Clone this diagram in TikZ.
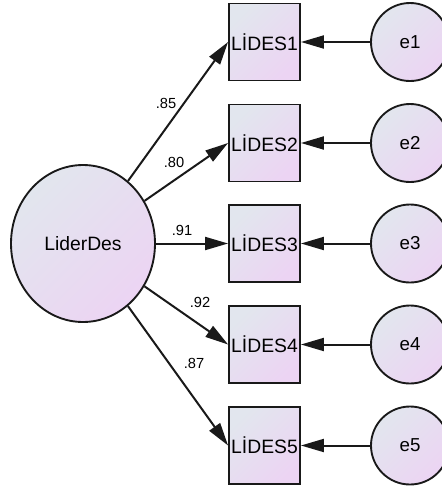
\documentclass[tikz,border=0pt]{standalone}
\usepackage{fontspec}
\setmainfont{Liberation Sans}
\usetikzlibrary{arrows.meta,shapes.geometric}

\definecolor{shadetop}{RGB}{226,230,238}
\definecolor{shadebot}{RGB}{236,212,243}
\definecolor{inkline}{RGB}{25,25,25}

\begin{document}
\begin{tikzpicture}[x=0.3mm,y=-0.3mm,
    latent/.style={ellipse,draw=inkline,line width=1.6pt,top color=shadetop,bottom color=shadebot,shading angle=45,inner sep=0pt,font=\fontsize{16.5}{18}\selectfont},
    obsbox/.style={rectangle,draw=inkline,line width=1.6pt,top color=shadetop,bottom color=shadebot,shading angle=45,inner sep=0pt,minimum width=21.3mm,minimum height=23.1mm,font=\fontsize{16.5}{18}\selectfont},
    errc/.style={circle,draw=inkline,line width=1.6pt,top color=shadetop,bottom color=shadebot,shading angle=45,inner sep=0pt,minimum size=23.4mm,font=\fontsize{16}{18}\selectfont},
    coef/.style={inner sep=0pt,font=\fontsize{12.5}{14}\selectfont},
    arr/.style={draw=inkline,line width=1.7pt,-{Triangle[length=6.9mm,width=3.9mm]}}]
    \path[use as bounding box,clip] (0,0) rectangle (442,486);
    \node[latent,minimum width=43.2mm,minimum height=47.1mm] (lider) at (83,243.5) {LiderDes};
    \node[obsbox] (lides1) at (264.5,42) {LİDES1};
    \node[obsbox] (lides2) at (264.5,143) {LİDES2};
    \node[obsbox] (lides3) at (264.5,243.5) {LİDES3};
    \node[obsbox] (lides4) at (264.5,344.5) {LİDES4};
    \node[obsbox] (lides5) at (264.5,445.5) {LİDES5};
    \node[errc] (e1) at (410,42) {e1};
    \node[errc] (e2) at (410,143) {e2};
    \node[errc] (e3) at (410,243.5) {e3};
    \node[errc] (e4) at (410,344.5) {e4};
    \node[errc] (e5) at (410,445.5) {e5};
    \draw[arr] (lider) -- (lides1.west);
    \draw[arr] (lider) -- (lides2.west);
    \draw[arr] (lider) -- (lides3.west);
    \draw[arr] (lider) -- (lides4.west);
    \draw[arr] (lider) -- (lides5.west);
    \draw[arr] (e1) -- (lides1);
    \draw[arr] (e2) -- (lides2);
    \draw[arr] (e3) -- (lides3);
    \draw[arr] (e4) -- (lides4);
    \draw[arr] (e5) -- (lides5);
    \node[coef] (w1) at (166,103) {.85};
    \node[coef] (w2) at (174,162) {.80};
    \node[coef] (w3) at (182,230) {.91};
    \node[coef] (w4) at (200,302) {.92};
    \node[coef] (w5) at (194,363) {.87};
\end{tikzpicture}
\end{document}
